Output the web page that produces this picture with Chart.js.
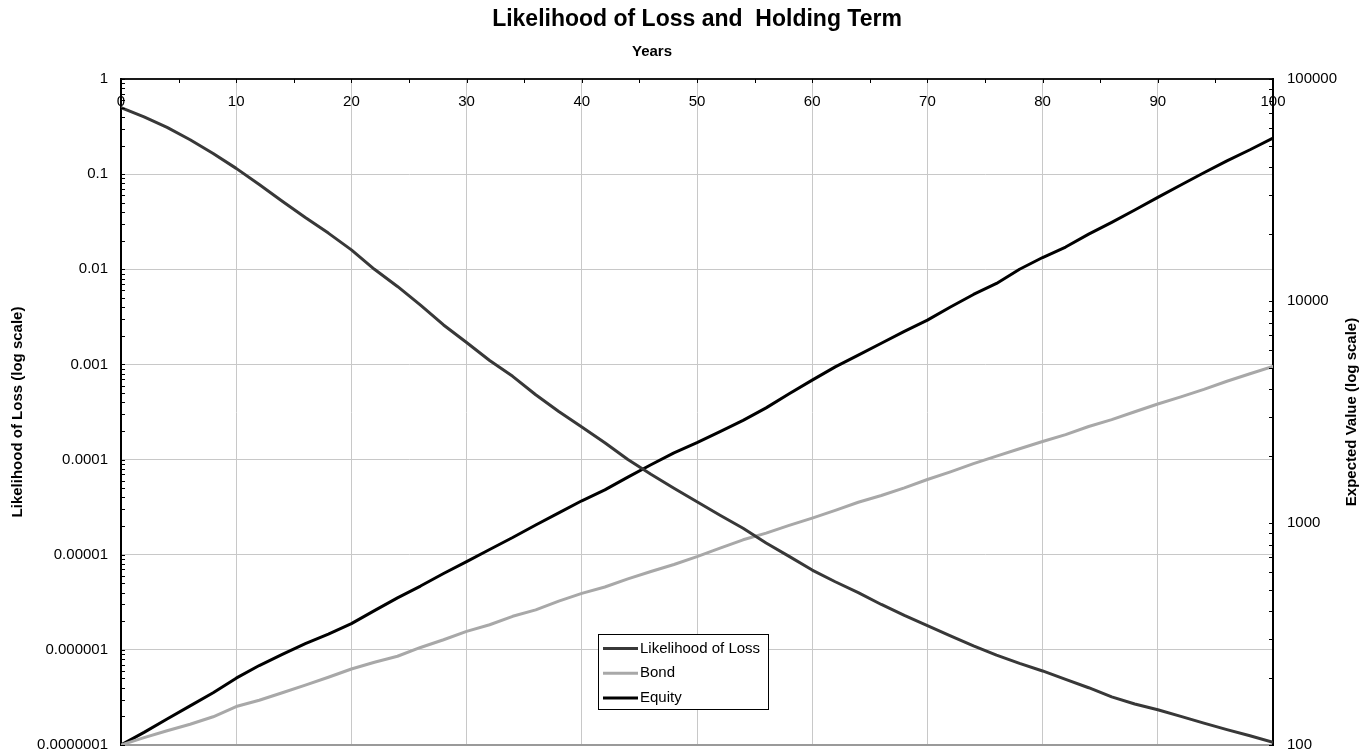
<!DOCTYPE html>
<html>
<head>
<meta charset="utf-8">
<title>Likelihood of Loss and Holding Term</title>
<script src="https://cdn.jsdelivr.net/npm/chart.js@4.4.1/dist/chart.umd.min.js"></script>
<style>
  html, body { margin: 0; padding: 0; background: #fff; }
  #wrap { width: 1364px; height: 753px; position: relative; }
</style>
</head>
<body>
<div id="wrap"><canvas id="chart"></canvas></div>
<script>
// holding term in years
const years = [0, 2, 4, 6, 8, 10, 12, 14, 16, 18, 20, 22, 24, 26, 28, 30, 32, 34, 36, 38, 40,
  42, 44, 46, 48, 50, 52, 54, 56, 58, 60, 62, 64, 66, 68, 70, 72, 74, 76, 78, 80,
  82, 84, 86, 88, 90, 92, 94, 96, 98, 100];

// probability of ending below the starting value (left axis)
const lossLikelihood = [0.5, 0.40, 0.31, 0.23, 0.165, 0.115, 0.078, 0.052, 0.035, 0.024, 0.016,
  0.0100, 0.0066, 0.0042, 0.0026, 0.0017, 0.0011, 0.00075, 0.00048, 0.00032, 0.00022,
  0.000150, 0.000100, 0.000070, 0.000050, 0.000036, 0.000026, 0.000019, 0.0000133, 0.0000096, 0.0000069,
  0.0000052, 0.0000040, 0.0000030, 0.0000023, 0.0000018, 0.0000014, 0.0000011, 0.00000088, 0.00000072, 0.00000060,
  0.00000049, 0.00000040, 0.00000032, 0.00000027, 0.000000235, 0.00000020, 0.00000017, 0.000000145, 0.000000125, 0.000000107];

// expected value of 100 invested (right axis)
const bondValue = [100, 108, 116, 124, 134, 149, 159, 172, 186, 202, 220,
  236, 251, 275, 298, 325, 348, 380, 406, 445, 482,
  515, 560, 605, 650, 705, 770, 840, 900, 975, 1052,
  1140, 1240, 1330, 1440, 1570, 1700, 1850, 2000, 2160, 2330,
  2500, 2720, 2920, 3170, 3436, 3700, 4000, 4350, 4700, 5070];

const equityValue = [100, 114, 131, 150, 172, 200, 228, 256, 286, 316, 352,
  403, 460, 520, 592, 670, 760, 860, 980, 1110, 1259,
  1410, 1610, 1830, 2070, 2300, 2580, 2900, 3300, 3820, 4400,
  5050, 5700, 6450, 7300, 8200, 9400, 10700, 12000, 13900, 15700,
  17500, 20000, 22600, 25700, 29300, 33300, 37800, 42800, 48000, 54200];

const lossTickLabels = ['1', '0.1', '0.01', '0.001', '0.0001', '0.00001', '0.000001', '0.0000001'];
const valueTickLabels = ['100000', '10000', '1000', '100'];

const chartTitle = 'Likelihood of Loss and  Holding Term';
const xTitle = 'Years';
const leftTitle = 'Likelihood of Loss (log scale)';
const rightTitle = 'Expected Value (log scale)';

const FONT = "'Liberation Sans', Arial, Helvetica, sans-serif";
const GRID = '#c8c8c8';

const toPoints = (vals) => vals.map((v, i) => ({x: years[i], y: v}));

const isDecade = (v) => Math.abs(Math.log10(v) - Math.round(Math.log10(v))) < 1e-6;

function decadeLabel(labels) {
  return (value) => {
    const hit = labels.find(s => Math.abs(Math.log10(Number(s)) - Math.log10(value)) < 1e-6);
    return hit || '';
  };
}

// keep only 1..9 x 10^n ticks (drop the 1.5 steps the log scale adds)
function wholeMantissa(scale) {
  scale.ticks = scale.ticks.filter(t => {
    const m = t.value / Math.pow(10, Math.floor(Math.log10(t.value) + 1e-9));
    return Math.abs(m - Math.round(m)) < 1e-6;
  });
}

// fixed side width, and no extra room reserved for the end labels
function fixWidth(w) {
  return (s) => {
    s.width = w;
    s.paddingTop = 0;
    s.paddingBottom = 8;
  };
}

const decor = {
  id: 'decor',
  afterDraw(chart) {
    const {ctx, chartArea: a, scales} = chart;
    ctx.save();

    // short tick marks pointing into the plot
    ctx.strokeStyle = '#000';
    ctx.lineWidth = 1;
    ctx.beginPath();
    scales.x.ticks.forEach(t => {
      const px = Math.round(scales.x.getPixelForValue(t.value)) + 0.5;
      ctx.moveTo(px, a.top); ctx.lineTo(px, a.top + 4);
    });
    scales.y.ticks.forEach(t => {
      const py = Math.round(scales.y.getPixelForValue(t.value)) + 0.5;
      ctx.moveTo(a.left, py); ctx.lineTo(a.left + 4, py);
    });
    scales.y1.ticks.forEach(t => {
      const py = Math.round(scales.y1.getPixelForValue(t.value)) + 0.5;
      ctx.moveTo(a.right, py); ctx.lineTo(a.right - 4, py);
    });
    ctx.stroke();

    // year labels sit just under the top axis
    ctx.fillStyle = '#000';
    ctx.font = `15px ${FONT}`;
    ctx.textAlign = 'center';
    ctx.textBaseline = 'middle';
    scales.x.ticks.forEach(t => {
      if (t.value % 10 === 0) ctx.fillText(String(t.value), scales.x.getPixelForValue(t.value), a.top + 23);
    });

    // titles
    ctx.textBaseline = 'alphabetic';
    ctx.font = `bold 23px ${FONT}`;
    ctx.fillText(chartTitle, 697, 26);
    ctx.font = `bold 15px ${FONT}`;
    ctx.fillText(xTitle, 652, 56);

    ctx.textBaseline = 'middle';
    ctx.save();
    ctx.translate(18, (a.top + a.bottom) / 2);
    ctx.rotate(-Math.PI / 2);
    ctx.fillText(leftTitle, 0, 0);
    ctx.restore();
    ctx.save();
    ctx.translate(1352, (a.top + a.bottom) / 2);
    ctx.rotate(-Math.PI / 2);
    ctx.fillText(rightTitle, 0, 0);
    ctx.restore();

    // legend box inside the plot
    const box = {x: 598.5, y: 634.5, w: 170, h: 75};
    ctx.fillStyle = '#fff';
    ctx.fillRect(box.x, box.y, box.w, box.h);
    ctx.strokeStyle = '#000';
    ctx.lineWidth = 1;
    ctx.strokeRect(box.x, box.y, box.w, box.h);
    ctx.font = `15px ${FONT}`;
    ctx.textAlign = 'left';
    chart.data.datasets.forEach((ds, i) => {
      const cy = 648.5 + i * 24.7;
      ctx.strokeStyle = ds.borderColor;
      ctx.lineWidth = 3;
      ctx.beginPath();
      ctx.moveTo(603, cy); ctx.lineTo(638, cy);
      ctx.stroke();
      ctx.fillStyle = '#000';
      ctx.fillText(ds.label, 640, cy);
    });

    ctx.restore();
  }
};

new Chart(document.getElementById('chart'), {
  type: 'line',
  data: {
    datasets: [
      {label: 'Likelihood of Loss', data: toPoints(lossLikelihood), yAxisID: 'y', borderColor: '#383838'},
      {label: 'Bond', data: toPoints(bondValue), yAxisID: 'y1', borderColor: '#a8a8a8'},
      {label: 'Equity', data: toPoints(equityValue), yAxisID: 'y1', borderColor: '#000000'}
    ]
  },
  options: {
    responsive: true,
    maintainAspectRatio: false,
    animation: false,
    devicePixelRatio: 1,
    events: [],
    layout: {padding: 0},
    elements: {
      point: {radius: 0},
      line: {borderWidth: 3, tension: 0, borderJoinStyle: 'round', borderCapStyle: 'round'}
    },
    plugins: {
      legend: {display: false},
      title: {display: false},
      tooltip: {enabled: false}
    },
    scales: {
      x: {
        type: 'linear',
        position: 'top',
        min: 0,
        max: 100,
        ticks: {stepSize: 5, display: false},
        grid: {
          drawTicks: false,
          tickLength: 0,
          color: (c) => (c.tick && c.tick.value % 10 === 0) ? GRID : 'rgba(0,0,0,0)'
        },
        border: {color: '#1a1a1a', width: 2},
        afterFit: (s) => { s.height = 79; }
      },
      y: {
        type: 'logarithmic',
        position: 'left',
        min: 1e-7,
        max: 1,
        afterBuildTicks: wholeMantissa,
        ticks: {
          autoSkip: false,
          padding: 13,
          color: '#000',
          font: {family: FONT, size: 15},
          callback: decadeLabel(lossTickLabels)
        },
        grid: {
          drawTicks: false,
          tickLength: 0,
          color: (c) => {
            if (!c.tick || !isDecade(c.tick.value)) return 'rgba(0,0,0,0)';
            return c.tick.value < 2e-7 ? '#9a9a9a' : GRID;
          },
          lineWidth: (c) => (c.tick && c.tick.value < 2e-7) ? 2 : 1
        },
        border: {color: '#000', width: 2},
        afterFit: fixWidth(121)
      },
      y1: {
        type: 'logarithmic',
        position: 'right',
        min: 100,
        max: 100000,
        afterBuildTicks: wholeMantissa,
        ticks: {
          autoSkip: false,
          padding: 14,
          color: '#000',
          font: {family: FONT, size: 15},
          callback: decadeLabel(valueTickLabels)
        },
        grid: {display: false, drawTicks: false, tickLength: 0},
        border: {color: '#000', width: 2},
        afterFit: fixWidth(91)
      }
    }
  },
  plugins: [decor]
});
</script>
</body>
</html>
